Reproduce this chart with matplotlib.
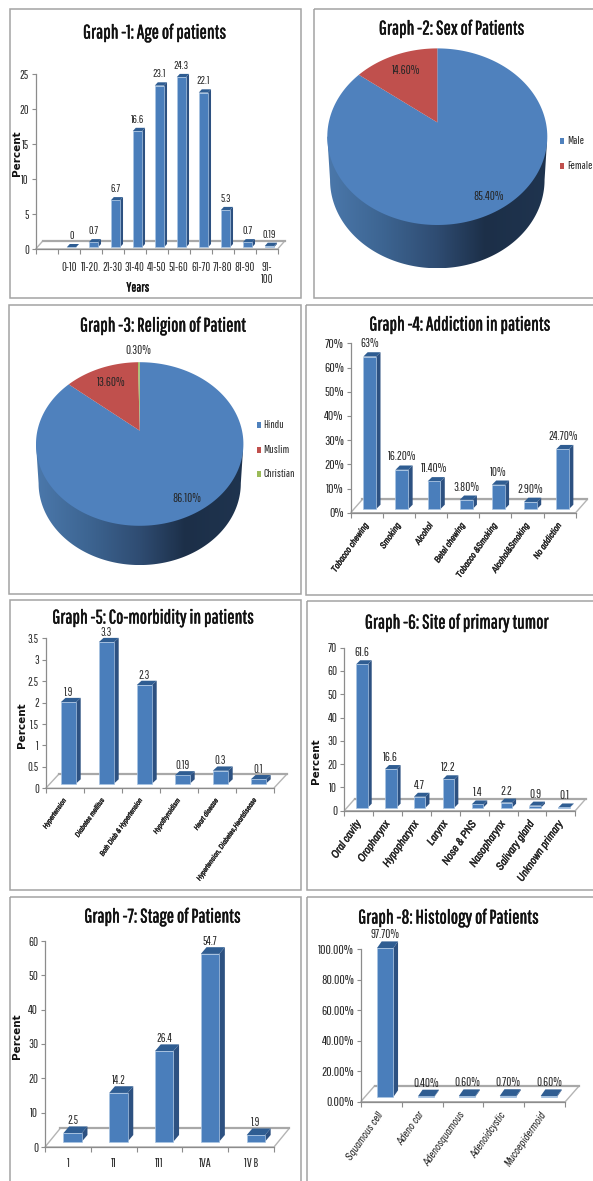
import numpy as np
import matplotlib
matplotlib.use("Agg")
import matplotlib.pyplot as plt
import matplotlib.patheffects as pe
from matplotlib.colors import LinearSegmentedColormap
from matplotlib.patches import Rectangle, Polygon

plt.rcParams["font.family"] = ["Pathway Gothic One", "Liberation Sans", "DejaVu Sans"]
SLANTED = ["Archivo Narrow", "Liberation Sans", "DejaVu Sans"]

W = 593
H = 1181

# graph 1
age_labels = ["", "0-10", "11-20.", "21-30", "31-40", "41-50", "51-60", "61-70", "71-80", "81-90", "91-\n100"]
age_values = [None, 0, 0.7, 6.7, 16.6, 23.1, 24.3, 22.1, 5.3, 0.7, 0.19]
age_text = ["", "0", "0.7", "6.7", "16.6", "23.1", "24.3", "22.1", "5.3", "0.7", "0.19"]
age_ticks = [0, 5, 10, 15, 20, 25]

# graph 2
sex_labels = ["Male", "Female"]
sex_values = [85.4, 14.6]

# graph 3
religion_labels = ["Hindu", "Muslim", "Christian"]
religion_values = [86.1, 13.6, 0.3]

# graph 4
addiction_labels = ["Tobacco chewing", "Smoking", "Alcohol", "Betel chewing", "Tobacco &Smoking", "Alcohol&Smoking", "No addiction"]
addiction_values = [63, 16.2, 11.4, 3.8, 10, 2.9, 24.7]
addiction_text = ["63%", "16.20%", "11.40%", "3.80%", "10%", "2.90%", "24.70%"]
addiction_ticks = [0, 10, 20, 30, 40, 50, 60, 70]

# graph 5
comorbid_labels = ["Hypertension", "Diabetes mellitus", "Both Diab & Hypertension", "Hypothyroidism", "Heart disease", "Hypertension, Diabetes,Heartdisease"]
comorbid_values = [1.9, 3.3, 2.3, 0.19, 0.3, 0.1]
comorbid_ticks = [0, 0.5, 1, 1.5, 2, 2.5, 3, 3.5]

# graph 6
site_labels = ["Oral cavity", "Oropharynx", "Hypopharynx", "Larynx", "Nose & PNS", "Nasopharynx", "Salivary gland", "Unknown primary"]
site_values = [61.6, 16.6, 4.7, 12.2, 1.4, 2.2, 0.9, 0.1]
site_ticks = [0, 10, 20, 30, 40, 50, 60, 70]

# graph 7
stage_labels = ["1", "11", "111", "1VA", "1V B"]
stage_values = [2.5, 14.2, 26.4, 54.7, 1.9]
stage_ticks = [0, 10, 20, 30, 40, 50, 60]

# graph 8
histology_labels = ["Squamous cell", "Adeno car", "Adenosquamous", "Adenoidcystic", "Mucoepidermoid"]
histology_values = [97.7, 0.4, 0.6, 0.7, 0.6]
histology_text = ["97.70%", "0.40%", "0.60%", "0.70%", "0.60%"]
histology_ticks = [0, 20, 40, 60, 80, 100]

BLUE = "#4a7ebb"
BAR_TOP = "#2f5d92"
BAR_SIDE = "#2d5181"
PIE_COLORS = ["#4f81bd", "#c0504d", "#9bbb59"]
GREY = "#8c8c8c"
FRAME = "#a3a3a3"
INK = "#262626"

fig = plt.figure(figsize=(W / 100, H / 100), dpi=100)

# page axes measured in pixels, for frames, titles and legends; sits above the pies
page = fig.add_axes([0, 0, 1, 1])
page.set_xlim(0, W)
page.set_ylim(H, 0)
page.axis("off")
page.set_zorder(5)


def thicken(text, lw=0.35, color="#111111"):
    # the narrow face has no bold cut, so a thin outline stands in for it
    text.set_path_effects([pe.withStroke(linewidth=lw, foreground=color)])


def frame(x0, y0, x1, y1):
    page.add_patch(Rectangle((x0, y0), x1 - x0, y1 - y0, fill=False, ec=FRAME, lw=1.1))


def title(x, y, text, size=14):
    thicken(page.text(x, y, text, ha="center", va="center", fontsize=size, color="#111111"))


def bar_chart(box, labels, values, text, ticks, tick_fmt, floor, bar, depth, tick_size=8.5, val_size=8.5,
              lab_size=None, lab_rot=0, lab_weight="normal", lab_pad=6, width=0.41, gap=3):
    x0, y0, x1, y1 = box
    n = len(labels)
    ax = fig.add_axes([x0 / W, 1 - y0 / H, (x1 - x0) / W, (y0 - y1) / H])
    ax.patch.set_alpha(0)
    ymax = ticks[-1]
    ax.set_xlim(0, n)
    ax.set_ylim(0, ymax)
    # depth offsets are given in pixels, these turn them into data units
    ux = n / (x1 - x0)
    uy = ymax / (y0 - y1)

    fx, fy = floor[0] * ux, floor[1] * uy
    ax.fill([0, n, n + fx, fx], [0, 0, fy, fy], fc="white", ec="#b4b4b4", lw=1.0, clip_on=False, zorder=1)
    ax.plot([fx, n + fx], [fy, fy], color="#a8a8a8", lw=1.6, clip_on=False, zorder=1.5)

    sx, sy = bar[0] * ux, bar[1] * uy
    dx, dy = depth[0] * ux, depth[1] * uy
    for i, v in enumerate(values):
        if v is None:
            continue
        left = i + 0.5 - width / 2 + sx
        right = left + width
        low = sy
        high = sy + v
        ax.fill([right, right + dx, right + dx, right], [low, low + dy, high + dy, high],
                fc=BAR_SIDE, lw=0, clip_on=False, zorder=3)
        ax.fill([left, right, right + dx, left + dx], [high, high, high + dy, high + dy],
                fc=BAR_TOP, lw=0, clip_on=False, zorder=3)
        ax.fill([left, right, right, left], [low, low, high, high],
                fc=BLUE, ec="#a9c4e2", lw=0.5, clip_on=False, zorder=4)
        ax.annotate(text[i], ((left + right) / 2, high + dy), xytext=(0, gap), textcoords="offset pixels",
                    ha="center", va="bottom", fontsize=val_size, color=INK, annotation_clip=False, zorder=5)

    ax.set_xticks(np.arange(n + 1))
    ax.set_xticklabels([])
    ax.set_xticks(np.arange(n) + 0.5, labels, minor=True)
    ax.set_yticks(ticks)
    ax.set_yticklabels([tick_fmt(t) for t in ticks])
    ax.tick_params(axis="x", which="major", length=3.5, width=0.8, color=GREY)
    ax.tick_params(axis="x", which="minor", length=0, pad=lab_pad)
    ax.tick_params(axis="y", length=3, width=0.8, color=GREY, labelsize=tick_size, labelcolor=INK, pad=2)
    for lab in ax.get_xticklabels(minor=True):
        lab.set_fontsize(lab_size or tick_size)
        lab.set_color(INK)
        if lab_rot:
            lab.set_family(SLANTED)
            lab.set_fontweight(lab_weight)
            lab.set_fontstyle("italic")
            lab.set_rotation(lab_rot)
            lab.set_rotation_mode("anchor")
            lab.set_ha("right")
            lab.set_va("center")
            if lab_weight == "bold":
                thicken(lab, 0.25, INK)
    for side in ["top", "right"]:
        ax.spines[side].set_visible(False)
    for side in ["left", "bottom"]:
        ax.spines[side].set_color(GREY)
        ax.spines[side].set_linewidth(0.9)
    return ax


def tilt(theta, k):
    # top face of the pie: a disc seen in perspective, its centre pushed back by k
    u = np.sin(theta)
    v = np.cos(theta)
    d = 1 + k * v
    return u * np.sqrt(1 - k * k) / d, (v + k) / d


def pie_3d(cx, cy, rx, ry, shares, k, drop):
    ax = fig.add_axes([(cx - rx) / W, 1 - (cy + ry * (1 + drop)) / H, 2 * rx / W, ry * (2 + drop) / H])
    ax.axis("off")

    # wall of the cylinder, shaded from left to right
    xs = np.cos(np.linspace(np.pi, 0, 200))
    ys = -np.sqrt(np.clip(1 - xs ** 2, 0, 1))
    wall = np.r_[np.c_[xs * 0.975, ys - drop], [[1, 0]], [[-1, 0]]]
    shade = LinearSegmentedColormap.from_list("wall", [(0, "#4b78ab"), (0.25, "#3d6592"), (0.5, "#2f4c72"),
                                                       (0.72, "#1c2f48"), (1, "#1f344f")])
    img = ax.imshow(np.linspace(0, 1, 256)[None, :], extent=(-1, 1, -1 - drop, 0), aspect="auto", cmap=shade, zorder=1)
    patch = Polygon(wall, closed=True, transform=ax.transData, fc="none", ec="none")
    ax.add_patch(patch)
    img.set_clip_path(patch)

    # slices of the top face, clockwise from twelve o'clock
    start = 0.0
    for share, color in zip(shares, PIE_COLORS):
        stop = start + share / 100 * 2 * np.pi
        a = np.linspace(start, stop, 200)
        px, py = tilt(a, k)
        ax.fill(np.r_[0, px], np.r_[k, py], fc=color, lw=0, zorder=2, clip_on=False)
        start = stop
    ax.set_xlim(-1, 1)
    ax.set_ylim(-1 - drop, 1)
    return ax


def legend(x, ys, labels, size=8.2):
    for y, name, color in zip(ys, labels, PIE_COLORS):
        page.add_patch(Rectangle((x - 2, y - 3), 4, 6, fc=color, lw=0))
        page.text(x + 4.5, y, name, ha="left", va="center", fontsize=size, color=INK)


def plain(t):
    return f"{t:g}"


def ylabel(x, y):
    page.text(x, y, "Percent", rotation=90, ha="center", va="center", fontsize=7.5,
              fontweight="bold", family="DejaVu Sans", color="#111111")


# frames around the eight graphs
frame(10, 9, 301, 298)
frame(314, 9, 600, 298)
frame(9, 305, 301, 594)
frame(306, 305, 600, 595)
frame(10, 600, 301, 890)
frame(307, 601, 600, 890)
frame(10, 897, 301, 1190)
frame(307, 897, 600, 1190)

title(155, 33, "Graph -1: Age of patients")
title(452, 29, "Graph -2: Sex of Patients")
title(163.5, 326, "Graph -3: Religion of Patient")
title(460.5, 325, "Graph -4: Addiction in patients")
title(153.7, 618, "Graph -5: Co-morbidity in patients")
title(457, 623, "Graph -6: Site of primary tumor")
title(163, 917, "Graph -7: Stage of Patients")
title(449, 918, "Graph -8: Histology of Patients")

bar_chart((35.7, 249, 277.7, 74), age_labels, age_values, age_text, age_ticks, plain,
          floor=(7.3, 8.3), bar=(2.7, 1.7), depth=(3, 3.3), val_size=8, lab_pad=9, width=0.42)
ylabel(17, 153)
thicken(page.text(138, 288, "Years", ha="center", va="center", fontsize=9.5, color="#111111"), 0.3)

pie_3d(437.3, 136.7, 110, 88.3, sex_values, 0.162, 0.49)
legend(562.3, [141, 165.7], sex_labels)
page.text(405.7, 70.7, "14.60%", ha="center", va="center", fontsize=9, color=INK)
page.text(489, 196.7, "85.40%", ha="center", va="center", fontsize=9, color=INK)

pie_3d(139.7, 444, 103.7, 81.8, religion_values, 0.163, 0.48)
legend(259, [425, 449.7, 474], religion_labels)
page.text(111.7, 383, "13.60%", ha="center", va="center", fontsize=9, color=INK)
page.text(186.7, 499, "86.10%", ha="center", va="center", fontsize=9, color=INK)
page.text(138.7, 350.7, "0.30%", ha="center", va="center", fontsize=9, color=INK)

bar_chart((350.7, 512.7, 575.7, 343.3), addiction_labels, addiction_values, addiction_text, addiction_ticks,
          lambda t: f"{t}%", floor=(11.7, 13.3), bar=(3, 3.7), depth=(4.3, 4.3), tick_size=9.5, val_size=9,
          lab_size=6.5, lab_rot=55, lab_weight="bold", lab_pad=8, width=0.40)

bar_chart((45.7, 788.3, 273.7, 638.3), comorbid_labels, comorbid_values,
          [plain(v) for v in comorbid_values], comorbid_ticks, plain, floor=(13, 14), bar=(3.7, 4.7),
          depth=(4.7, 4.3), lab_size=5.2, lab_rot=55, lab_weight="bold", lab_pad=8, width=0.40, gap=0)
ylabel(21.5, 725)

bar_chart((344.3, 810.7, 575.3, 647.7), site_labels, site_values, [plain(v) for v in site_values], site_ticks, plain,
          floor=(10.3, 11.7), bar=(3.2, 3), depth=(4, 4), tick_size=9, val_size=9, lab_size=8, lab_rot=55,
          lab_weight="bold", lab_pad=8, width=0.40, gap=2)
ylabel(315.7, 761)

bar_chart((45, 1147, 274, 941), stage_labels, stage_values, [plain(v) for v in stage_values], stage_ticks, plain,
          floor=(15.3, 18.7), bar=(4.7, 5.3), depth=(5.7, 6.7), tick_size=9, lab_pad=8, width=0.40, gap=0)
ylabel(17.3, 1036)

bar_chart((360.7, 1101.7, 565.3, 949.3), histology_labels, histology_values, histology_text, histology_ticks,
          lambda t: f"{t:.2f}%", floor=(14, 16), bar=(4, 4.7), depth=(4.7, 6.7), tick_size=9.5, val_size=9,
          lab_size=7.5, lab_rot=55, lab_pad=8, width=0.40, gap=1)

fig.savefig("out.png", dpi=100)
